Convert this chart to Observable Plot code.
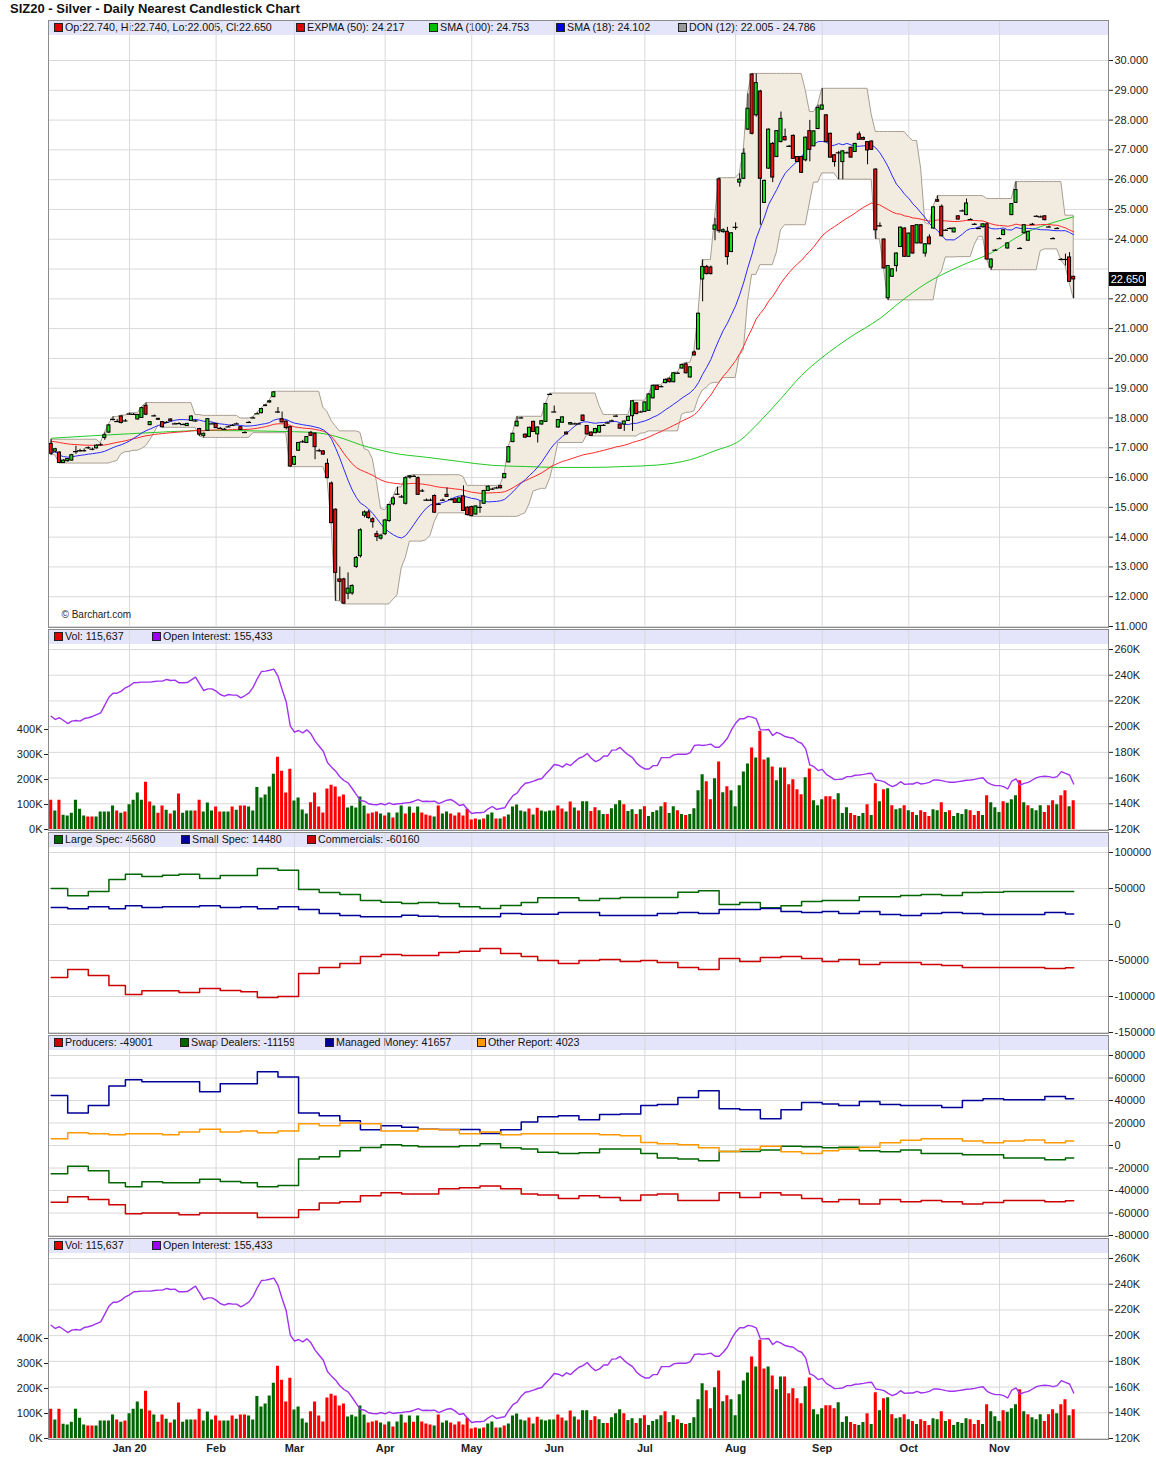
<!DOCTYPE html>
<html>
<head>
<meta charset="utf-8">
<script src="https://cdn.jsdelivr.net/npm/d3@7"></script>
<script src="https://cdn.jsdelivr.net/npm/@observablehq/plot@0.6"></script>
<style>
  html, body { margin: 0; padding: 0; background: #fff; overflow: hidden; }
  body { font-family: "Liberation Sans", Arial, sans-serif; }
  #root { position: relative; width: 1156px; height: 1479px; }
  .title { position: absolute; left: 10px; top: 1px; font-weight: bold; font-size: 13px; line-height: 16px; color: #111; white-space: nowrap; }
  .band { position: absolute; left: 49px; width: 1059px; height: 15px; background: #e4e4fa; }
  .sq { position: absolute; top: 3px; width: 7px; height: 7px; border: 1px solid #222; }
  .lt { position: absolute; top: 0; line-height: 15px; font-size: 10.7px; color: #111; white-space: nowrap; }
  .panel { position: absolute; left: 0; }
  .last { position: absolute; left: 1109px; width: 37px; height: 14px; background: #000; color: #fff; font-size: 11px; line-height: 14px; text-align: center; }
</style>
</head>
<body>
<div id="root"></div>
<script>
// ---------- categories / ticks ----------
const monthIdx = [19, 40, 59, 81, 102, 122, 144, 166, 187, 208, 230];
const monthLbl = ["Jan 20", "Feb", "Mar", "Apr", "May", "Jun", "Jul", "Aug", "Sep", "Oct", "Nov"];
const priceTicks = [11,12,13,14,15,16,17,18,19,20,21,22,23,24,25,26,27,28,29,30];
const priceLabelTicks = [11,12,13,14,15,16,17,18,19,20,21,22,24,25,26,27,28,29,30];
const oiTicks = [120,140,160,180,200,220,240,260];
const volTicks = [0,100,200,300,400];
const cotTicks = [100000,50000,0,-50000,-100000,-150000];
const dispTicks = [80000,60000,40000,20000,0,-20000,-40000,-60000,-80000];

// ---------- daily OHLC ----------
const opens = [
17.13,16.87,16.84,16.49,16.55,16.57,16.87,16.90,16.90,17.00,
16.95,16.98,17.10,17.33,17.51,17.95,17.88,18.05,17.90,18.13,
18.12,17.95,18.00,18.41,17.76,18.07,17.97,17.86,17.85,17.95,
17.80,17.81,17.78,17.73,17.90,17.90,17.63,17.40,17.57,17.80,
17.80,17.65,17.62,17.70,17.75,17.80,17.69,17.51,17.85,18.00,
18.14,18.16,18.40,18.52,18.70,18.20,17.96,17.88,17.69,16.43,
16.90,17.20,17.16,17.50,17.47,16.90,16.88,16.46,15.80,14.92,
12.58,12.58,12.10,12.11,13.00,13.36,14.72,14.83,14.60,14.10,
13.95,14.10,14.54,15.10,15.44,15.35,15.12,16.00,16.04,15.98,
15.55,15.24,15.24,15.38,15.10,15.24,15.42,15.26,15.27,15.15,
15.37,14.99,15.01,14.76,15.00,15.12,15.55,15.61,15.65,15.71,
15.98,16.51,17.19,17.72,18.00,17.44,17.36,17.87,17.45,17.78,
17.87,18.79,18.20,17.68,17.84,17.51,17.78,17.80,17.80,18.08,
17.73,17.51,17.49,17.51,17.75,17.83,17.90,18.06,17.78,17.78,
17.90,18.06,18.49,18.20,18.20,18.24,18.66,19.08,19.05,19.17,
19.30,19.20,19.50,19.66,19.80,19.36,20.20,20.30,22.65,23.07,
23.05,24.32,26.01,24.24,24.25,23.57,24.40,25.90,26.03,27.68,
29.53,28.16,28.96,25.22,26.37,27.20,26.76,27.26,27.43,27.12,
27.47,26.76,26.76,26.65,27.63,27.12,27.70,28.35,28.16,27.54,
26.82,26.90,26.59,26.90,27.07,26.93,27.52,27.40,27.26,27.28,
26.34,24.45,23.99,22.02,22.74,23.10,23.74,24.36,23.41,24.44,
23.86,24.47,23.52,24.06,24.36,25.31,25.09,24.30,24.36,24.23,
24.77,24.95,24.81,24.66,24.50,24.36,24.40,24.50,23.05,23.63,
24.02,24.14,23.69,24.81,25.22,23.69,24.20,23.95,24.50,24.77,
24.75,24.77,24.41,24.02,24.36,23.32,23.32,23.39,22.74];
const highs = [
17.27,16.98,16.86,16.60,16.64,16.78,17.05,16.95,16.96,17.03,
16.99,17.10,17.15,17.50,17.78,18.03,17.95,18.08,17.95,18.16,
18.15,18.12,18.36,18.50,17.88,18.10,17.99,17.88,17.88,17.97,
17.83,17.84,17.80,17.82,18.07,17.93,17.65,17.49,17.98,17.83,
17.82,17.68,17.65,17.73,17.78,17.83,17.71,17.54,17.88,18.03,
18.17,18.32,18.44,18.58,18.88,18.35,18.20,17.90,17.72,16.72,
17.18,17.25,17.38,17.55,17.50,16.95,16.90,16.62,15.85,14.95,
13.00,12.62,12.80,12.40,13.35,14.28,14.88,14.90,14.65,14.20,
14.10,14.60,15.10,15.35,15.67,15.40,16.02,16.06,16.08,16.02,
15.60,15.28,15.28,15.42,15.14,15.28,15.65,15.30,15.30,15.32,
15.72,15.02,15.04,15.05,15.20,15.57,15.72,15.64,15.68,15.74,
16.14,17.04,17.49,18.04,18.03,17.46,17.69,17.89,17.70,17.91,
18.49,18.82,18.40,17.95,18.04,17.53,17.85,17.83,17.83,18.10,
17.75,17.53,17.65,17.75,17.78,17.86,17.93,18.09,17.80,17.90,
18.06,18.58,18.51,18.23,18.54,18.81,19.10,19.10,19.08,19.30,
19.35,19.52,19.53,19.80,19.85,19.72,20.25,21.52,23.30,23.12,
23.10,24.70,26.05,24.35,24.40,24.22,24.55,26.20,27.04,28.88,
29.55,29.55,29.00,25.98,27.70,27.25,27.65,28.27,27.70,27.15,
27.50,26.78,26.78,27.43,27.99,27.64,28.50,29.05,28.18,27.56,
26.84,26.95,26.97,26.93,27.09,27.22,27.60,27.43,27.28,27.30,
26.36,24.55,24.01,23.12,23.01,23.54,24.41,24.38,24.21,24.46,
24.49,24.49,23.85,24.15,25.09,25.45,25.15,24.33,24.39,24.38,
24.79,24.98,25.35,24.69,24.53,24.39,24.52,24.55,23.34,23.66,
24.05,24.32,23.88,25.20,25.92,23.72,24.49,24.27,24.53,24.79,
24.78,24.79,24.44,24.05,24.39,23.35,23.50,23.55,22.74];
const lows = [
16.75,16.82,16.47,16.47,16.52,16.55,16.78,16.85,16.86,16.95,
16.90,16.96,17.05,17.25,17.48,17.90,17.85,17.80,17.87,18.10,
18.09,17.93,17.98,18.08,17.74,18.04,17.92,17.67,17.82,17.87,
17.78,17.79,17.75,17.71,17.88,17.87,17.38,17.33,17.55,17.78,
17.64,17.62,17.60,17.68,17.72,17.78,17.58,17.49,17.83,17.97,
18.12,18.14,18.38,18.50,18.68,18.15,17.83,17.60,16.35,16.40,
16.88,17.15,17.14,17.38,16.60,16.85,16.75,15.96,14.45,11.85,
11.85,11.74,11.90,12.05,12.95,13.30,14.65,14.60,14.30,13.85,
13.90,14.05,14.50,15.05,15.40,15.30,15.08,15.95,16.00,15.40,
15.50,15.20,15.20,14.80,15.06,15.20,15.33,15.22,15.13,15.13,
14.86,14.72,14.68,14.74,14.80,15.10,15.53,15.58,15.62,15.62,
15.96,16.49,17.17,17.70,17.97,17.32,17.34,17.51,17.16,17.76,
17.85,18.76,18.18,17.66,17.82,17.43,17.76,17.77,17.77,17.88,
17.43,17.38,17.47,17.49,17.72,17.80,17.87,18.03,17.62,17.55,
17.88,17.55,18.11,18.17,18.18,18.22,18.64,18.92,19.02,19.15,
19.18,19.18,19.47,19.64,19.48,19.34,20.08,20.28,21.90,22.80,
22.80,23.95,24.20,24.20,23.13,23.55,24.30,25.75,26.00,27.65,
27.50,28.10,24.47,25.20,26.35,25.90,26.74,27.24,27.30,27.09,
26.68,26.57,26.21,26.60,26.60,27.10,27.68,28.33,27.24,26.72,
26.42,26.00,26.00,26.87,26.72,26.91,27.32,27.32,26.50,26.98,
24.00,24.40,23.00,21.95,22.72,22.90,23.72,23.39,23.39,23.50,
23.84,23.84,23.40,23.81,24.34,25.24,24.08,24.27,24.33,24.21,
24.64,24.92,24.79,24.63,24.47,24.33,24.38,23.30,22.96,23.60,
23.99,24.12,23.67,24.79,25.20,23.66,24.18,23.93,24.47,24.74,
24.72,24.62,24.38,23.99,24.33,23.29,23.10,22.55,22.005];
const closes = [
16.80,16.95,16.49,16.57,16.62,16.75,16.87,16.90,16.90,17.00,
16.95,17.07,17.10,17.42,17.75,17.95,17.88,17.83,17.90,18.13,
18.12,18.10,18.33,18.11,17.86,18.07,17.94,17.69,17.85,17.89,
17.80,17.81,17.78,17.80,18.05,17.90,17.44,17.47,17.96,17.80,
17.66,17.65,17.62,17.70,17.75,17.80,17.60,17.51,17.85,18.00,
18.14,18.30,18.42,18.56,18.86,18.20,17.85,17.66,16.37,16.69,
17.16,17.20,17.36,17.40,17.02,16.90,16.77,15.98,14.47,12.80,
12.50,11.77,12.27,12.36,13.30,14.23,14.83,14.64,14.50,14.00,
14.05,14.56,15.08,15.30,15.44,15.35,15.98,16.04,16.04,15.42,
15.55,15.24,15.24,14.82,15.10,15.24,15.35,15.26,15.15,15.30,
14.88,14.74,14.71,15.03,15.00,15.55,15.69,15.61,15.65,15.64,
16.12,17.02,17.47,17.87,18.00,17.34,17.67,17.53,17.68,17.89,
18.47,18.79,18.20,17.93,18.02,17.45,17.83,17.80,17.80,17.90,
17.45,17.40,17.63,17.73,17.75,17.83,17.90,18.06,17.64,17.88,
18.04,18.56,18.13,18.20,18.52,18.79,19.08,18.94,19.05,19.28,
19.20,19.50,19.50,19.78,19.50,19.70,20.10,21.50,23.07,22.83,
22.83,24.46,24.27,24.30,23.40,24.20,24.40,26.00,26.87,28.38,
27.54,29.24,26.03,25.96,27.68,26.07,27.63,28.04,27.32,27.12,
26.70,26.59,26.23,27.41,27.00,27.62,28.41,28.49,27.26,26.74,
26.59,26.90,26.95,26.90,26.74,27.20,27.34,27.34,26.98,27.00,
24.30,24.45,23.02,23.10,22.99,23.52,24.39,23.41,24.19,23.52,
24.47,23.86,23.83,23.83,25.07,25.26,24.10,24.30,24.36,24.36,
24.66,24.95,25.20,24.66,24.50,24.36,24.50,23.32,23.32,23.63,
24.02,24.30,23.86,25.18,25.65,23.69,24.47,24.25,24.50,24.77,
24.75,24.64,24.41,24.02,24.36,23.32,23.32,22.57,22.65];

// SMA(100) (bar index, value)
const sma100Idx = [0,19,39,55,63,67,71,75,79,83,91,99,107,115,123,131,139,147,155,161,167,172,177,182,187,194,201,206,212,220,228,236,244,248];
const sma100Val = [17.32,17.47,17.58,17.55,17.52,17.45,17.30,17.10,16.95,16.82,16.68,16.54,16.41,16.37,16.34,16.34,16.37,16.42,16.60,16.90,17.24,17.90,18.65,19.43,20.03,20.73,21.34,21.90,22.50,23.07,23.54,24.20,24.60,24.75];
const ema50Start = 17.23;

// ---------- volume (K) and open interest (K) ----------
const volumeK = [
117,74,117,57,54,65,117,81,54,50, 50,50,70,70,70,94,74,65,70,99,
117,146,117,189,110,94,65,94,77,62, 74,142,65,74,74,74,117,70,106,74,
90,70,70,70,90,77,94,94,90,74, 168,126,138,170,221,289,233,146,241,114,
126,78,62,107,146,90,66,162,177,170, 130,138,86,93,86,130,94,62,66,70,
62,54,66,46,66,94,62,90,65,90, 66,58,54,50,94,62,70,62,54,66,
54,81,38,42,38,42,58,66,42,42, 50,58,90,98,74,70,82,58,85,74,
70,74,74,94,82,70,110,86,74,
111,111,72,87,75,60,60,83,99,115, 99,72,79,60,79,91,52,68,75,91,
107,64,91,75,60,56,60,83,155,219, 191,119,203,270,147,171,155,91,175,230,
262,326,286,393,278,286,250,195,246,246, 179,199,159,139,207,242,115,95,119,131,
131,119,143,64,87,64,56,52,64,99, 56,183,111,159,163,95,79,83,95,75,
68,56,75,68,52,79,75,107,68,75, 52,64,60,79,75,56,72,56,135,107,
87,68,111,105,119,135,195,107,95,83, 75,95,68,95,115,99,135,155,91,115];
const volColor = (
"rgrggggggr" + "rgggggrgrg" + "gggrrgrrgr" + "grgggrrggg" + "rrggrgrrgg" +
"gggggrrrrg" + "gggrrrrrrr" + "rrgggggrrr" + "grgrggrgrg" + "rrrgrggrrr" +
"rrrrgrggrg" + "rgggggrgrg" + "gggrrgrgr" +
"ggrrggrggg" + "rggrgrgggg" + "rggrgrgggg" + "rrgrgrgggg" + "grgrrgrggr" +
"rrrrgrgggr" + "rrgggrrggr" + "grgrgrggrg" + "rgrrrggrgr" + "ggggrrrgrg" +
"ggrgggrgrg" + "ggrrrgrrgr").split("");
const openInterestK = [
208.1,205.6,206.9,204.8,202.4,204.3,204.8,204.3,206.3,206.9,
207.9,209.4,210.7,216.7,222.9,226.0,226.0,227.6,230.2,231.7,
234.1,234.3,234.6,234.6,234.6,235.1,235.4,235.4,236.7,235.9,
236.2,234.1,234.1,234.3,236.4,238.5,233.3,228.1,229.4,229.4,
227.6,225.0,223.7,225.0,224.5,224.5,222.4,224.2,226.3,230.7,
237.4,242.9,243.2,243.9,244.7,239.3,228.9,219.3,200.4,195.7,
197.0,195.2,197.5,194.4,188.7,184.8,180.9,172.1,168.5,165.4,
161.0,158.1,156.3,151.9,147.2,142.6,142.0,140.0,139.4,139.2,
140.2,139.2,140.7,139.4,140.0,140.2,140.7,141.0,142.0,143.3,
141.8,142.0,141.8,142.0,140.2,141.5,142.8,143.3,141.3,138.7,
139.4,135.6,132.4,133.0,133.0,133.5,136.1,137.9,135.6,136.3,
136.9,142.0,146.4,148.3,152.9,156.0,156.6,157.6,158.9,159.7,
163.3,166.7,170.6,170.0,168.5,171.1,169.7,172.8,175.4,176.7,
179.1,175.4,172.8,174.1,177.2,177.2,181.7,181.9,183.8,180.6,
178.0,175.9,171.5,168.9,167.1,167.1,169.7,169.7,175.9,175.9,
175.9,178.0,178.5,178.5,178.5,179.8,185.3,185.8,185.3,185.8,
186.4,184.0,184.0,187.1,191.0,197.5,202.7,206.1,206.1,208.0,
207.4,206.1,197.5,197.5,197.8,193.1,195.5,194.2,192.3,191.6,
191.0,188.4,187.1,182.7,170.2,168.9,165.8,166.8,162.9,160.9,
158.8,159.0,159.3,161.1,161.1,162.2,162.4,162.9,163.5,163.7,
158.5,158.0,157.2,155.1,153.3,154.6,157.2,155.1,155.4,155.4,
156.7,155.4,155.9,156.7,158.5,158.5,158.0,157.2,156.7,156.7,
157.2,157.7,158.3,158.5,159.0,159.8,160.3,156.7,155.1,154.1,
154.1,153.3,151.5,157.7,159.3,154.6,155.9,156.7,158.5,160.3,
161.1,161.4,161.1,160.3,161.1,165.0,163.7,162.4,155.4];

// ---------- weekly COT (value from each report's Tuesday bar) ----------
const weekStart = [0,4,9,14,18,22,27,31,36,41,46,50,55,60,65,70,75,80,85,89,94,99,104,109,114,118,123,128,133,138,143,147,152,157,162,167,172,177,182,187,191,196,201,206,211,216,221,226,231,236,241,246];
const largeSpec = [50000,39800,45800,62500,69900,66700,68500,69900,63900,68000,
 68000,77800,75500,48600,44400,41700,33300,31000,29200,30600,
 29200,24500,22200,26400,30600,37000,37000,33300,36100,37500,
 37500,37500,44900,46800,27800,30600,23100,25900,31900,33300,
 33300,38400,38400,40300,41700,40300,44400,44900,45800,45800,
 45800,45680];
const smallSpec = [23600,21800,24500,21800,25900,23600,24500,24500,25900,23600,
 24500,21800,24500,20800,15300,12500,10600,10600,13000,11600,
 10600,10600,10600,15300,14400,14400,16700,16700,12500,12500,
 12500,15300,16700,15300,20800,20800,22200,18100,16700,18100,
 15300,18100,13900,12500,15300,16700,15300,13900,13900,13900,
 16700,14480];
const commercials = [-73600,-62500,-70800,-84700,-97200,-92100,-92100,-94400,-88900,-91700,
 -93500,-101400,-100000,-68100,-59700,-54200,-44400,-41700,-43100,-43100,
 -38900,-37000,-33300,-40300,-44400,-50000,-54200,-50000,-48600,-51400,
 -50000,-52800,-59700,-62500,-47200,-51400,-45800,-44400,-47200,-51400,
 -48600,-55600,-52800,-52800,-55600,-56900,-59700,-59700,-59700,-59700,
 -61100,-60160];
const producers = [-50400,-45600,-48000,-52700,-60700,-59900,-59900,-61600,-59900,-59900,
 -59900,-64000,-64000,-57200,-51000,-50100,-44700,-42100,-43000,-43000,
 -38500,-37600,-35900,-38500,-43000,-43900,-47100,-44700,-46200,-48900,
 -43900,-43000,-48900,-48900,-42100,-46200,-42100,-43900,-47100,-50100,
 -48000,-51900,-48000,-50100,-48900,-50100,-51900,-50700,-48900,-48900,
 -50100,-49001];
const swapDealers = [-25200,-18400,-22500,-33200,-36700,-32300,-33200,-33200,-29900,-32000,
 -33200,-36700,-35600,-11900,-10100,-4700,-1800,600,-300,-1200,
 -1200,-300,1500,-2100,-3000,-5900,-7100,-6500,-3000,-3000,
 -7100,-11000,-11900,-13600,-5300,-5300,-3900,-600,-1200,-2100,
 -1500,-4700,-5600,-4100,-7100,-7100,-8300,-8300,-11000,-11000,
 -12700,-11159];
const managedMoney = [44400,29000,35600,53000,58400,56600,56600,56600,47700,54800,
 54800,65500,61000,29000,26400,21900,13900,17500,16300,14500,
 14200,14200,10700,13900,21000,25500,26400,22800,27600,28100,
 35600,36400,42700,48600,32600,31700,23700,31700,38200,37000,
 35600,39100,36400,35600,35600,33800,40000,41500,40600,40600,
 43600,41657];
const otherReport = [5900,11300,10400,9500,10400,10400,9500,11900,14500,12100,
 13000,11300,13000,19300,17500,20100,19300,13000,13000,14500,
 13900,10400,11900,9500,10400,10400,10400,10400,9500,8600,
 2700,1500,600,-2100,-5300,-3300,-600,-5600,-7100,-4700,
 -3000,-1500,2400,4700,5900,5900,4100,2400,4100,5000,
 2400,4023];

// ---------- legend texts ----------
const legendPrice = ["Op:22.740, Hi:22.740, Lo:22.005, Cl:22.650", "EXPMA (50): 24.217", "SMA (100): 24.753", "SMA (18): 24.102", "DON (12): 22.005 - 24.786"];
const legendVol = ["Vol: 115,637", "Open Interest: 155,433"];
const legendCot = ["Large Spec: 45680", "Small Spec: 14480", "Commercials: -60160"];
const legendDisagg = ["Producers: -49001", "Swap Dealers: -11159", "Managed Money: 41657", "Other Report: 4023"];
const titleText = "SIZ20 - Silver - Daily Nearest Candlestick Chart";
const lastPriceText = "22.650";

// ================= build =================
const N = closes.length;
const bars = d3.range(N).map(i => ({i, o: opens[i], h: highs[i], l: lows[i], c: closes[i]}));
const sma18 = closes.map((c, i) => d3.mean(closes.slice(Math.max(0, i - 17), i + 1)));
let e = ema50Start;
const ema50 = closes.map(c => (e = e + (2 / 51) * (c - e)));
const donHi = highs.map((h, i) => d3.max(highs.slice(Math.max(0, i - 11), i + 1)));
const donLo = lows.map((l, i) => d3.min(lows.slice(Math.max(0, i - 11), i + 1)));

const GREEN = "#12e012", RED = "#f01010", GRID = "#d9d9d9", FRAME = "#8c8c8c";
const VGREEN = "#006600", VRED = "#ff0000", PURPLE = "#a033ee";
const style = {fontFamily: "'Liberation Sans', Arial, sans-serif", fontSize: "11px", color: "#222", background: "transparent", overflow: "visible"};
const X = {domain: [0, N - 1], range: [50.7, 1073.2], axis: null, label: null};

const root = document.getElementById("root");
const t = document.createElement("div"); t.className = "title"; t.textContent = titleText; root.appendChild(t);

function band(top, items) {
  const b = document.createElement("div");
  b.className = "band"; b.style.top = top + "px";
  for (const it of items) {
    const sq = document.createElement("span"); sq.className = "sq";
    sq.style.left = (it.x - 49) + "px"; sq.style.background = it.color; b.appendChild(sq);
    const tx = document.createElement("span"); tx.className = "lt";
    tx.style.left = (it.x - 49 + 11) + "px"; tx.textContent = it.text; b.appendChild(tx);
  }
  root.appendChild(b);
}
function place(svg, top) {
  const d = document.createElement("div"); d.className = "panel"; d.style.top = top + "px";
  d.appendChild(svg); root.appendChild(d);
  return svg;
}

// ---- panel 1: candlesticks ----
band(20, [
  {x: 54, color: "#e00000", text: legendPrice[0]},
  {x: 296, color: "#e00000", text: legendPrice[1]},
  {x: 429, color: "#00c000", text: legendPrice[2]},
  {x: 556, color: "#0000e0", text: legendPrice[3]},
  {x: 678, color: "#999999", text: legendPrice[4]}
]);
const bodies = bars.filter(d => Math.abs(d.c - d.o) >= 0.015);
const dojis = bars.filter(d => Math.abs(d.c - d.o) < 0.015);
const p1 = Plot.plot({
  width: 1156, height: 609, marginLeft: 48, marginRight: 48, marginTop: 1, marginBottom: 1,
  style, x: X, y: {domain: [11, 30], range: [607, 41], axis: null, label: null},
  marks: [
    Plot.gridY(priceTicks, {stroke: GRID, strokeOpacity: 1}),
    Plot.gridX(monthIdx, {stroke: GRID, strokeOpacity: 1}),
    Plot.areaY(bars, {x: "i", y1: donLo, y2: donHi, fill: "#f1ebe0", stroke: "#a89f93", strokeWidth: 1}),
    Plot.line(sma100Idx.map((x, k) => [x, sma100Val[k]]), {stroke: "#22c922", strokeWidth: 1, curve: "monotone-x"}),
    Plot.line(bars, {x: "i", y: ema50, stroke: "#ff2a2a", strokeWidth: 1}),
    Plot.line(bars, {x: "i", y: sma18, stroke: "#2a2aff", strokeWidth: 1}),
    Plot.ruleX(bars, {x: "i", y1: "l", y2: "h", stroke: "#000", strokeWidth: 1}),
    Plot.rect(bodies, {x1: d => d.i - 0.37, x2: d => d.i + 0.37, y1: "o", y2: "c",
      fill: d => d.c > d.o ? GREEN : RED, stroke: "#000", strokeWidth: 1}),
    Plot.ruleY(dojis, {x1: d => d.i - 0.6, x2: d => d.i + 0.6, y: "c", stroke: "#000", strokeWidth: 1.2}),
    Plot.frame({stroke: FRAME}),
    Plot.axisY(priceLabelTicks, {anchor: "right", label: null, tickFormat: d => d.toFixed(3), tickSize: 4, tickPadding: 2}),
    Plot.text(["© Barchart.com"], {frameAnchor: "bottom-left", dx: 13, dy: -10, lineAnchor: "bottom", fontSize: 10, fill: "#222"})
  ]
});
place(p1, 19);
const lp = document.createElement("div"); lp.className = "last";
lp.style.top = (19 + p1.scale("y").apply(closes[N - 1]) - 7) + "px";
lp.textContent = lastPriceText; root.appendChild(lp);

// ---- volume / open interest panels ----
const volToOI = v => 120 + v * (140 / 180) / 4;
const volData = volumeK.map((v, i) => ({i, v, up: volColor[i] === "g"}));
const oiData = openInterestK.map((v, i) => ({i, v}));
function volPanel(top, height, withX) {
  band(top + 1, [
    {x: 54, color: "#e00000", text: legendVol[0]},
    {x: 152, color: "#9900ff", text: legendVol[1]}
  ]);
  const marks = [
    Plot.gridY(oiTicks, {stroke: GRID, strokeOpacity: 1}),
    Plot.gridX(monthIdx, {stroke: GRID, strokeOpacity: 1}),
    Plot.rect(volData, {x1: d => d.i - 0.37, x2: d => d.i + 0.37, y1: () => 120, y2: d => volToOI(d.v),
      fill: d => d.up ? VGREEN : VRED}),
    Plot.line(oiData, {x: "i", y: "v", stroke: PURPLE, strokeWidth: 1.4}),
    Plot.frame({stroke: FRAME}),
    Plot.axisY(oiTicks, {anchor: "right", label: null, tickFormat: d => d + "K", tickSize: 4, tickPadding: 2}),
    Plot.axisY(volTicks.map(volToOI), {anchor: "left", label: null, tickFormat: d => Math.round((d - 120) * 4 * 180 / 140) + "K", tickSize: 4, tickPadding: 2})
  ];
  if (withX) marks.push(Plot.axisX(monthIdx, {anchor: "bottom", label: null, tickSize: 0, tickPadding: 5, fontWeight: "bold",
    tickFormat: d => monthLbl[monthIdx.indexOf(d)]}));
  const p = Plot.plot({
    width: 1156, height, marginLeft: 48, marginRight: 48, marginTop: 1, marginBottom: height - 202,
    style, x: X, y: {domain: [120, 260], range: [201, 21], axis: null, label: null}, marks
  });
  place(p, top);
}
volPanel(628, 203, false);

// ---- COT step panels ----
function steps(vals) {
  const pts = weekStart.map((s, k) => ({i: s, v: vals[k]}));
  pts.push({i: N - 1, v: vals[vals.length - 1]});
  return pts;
}
function cotPanel(top, domain, ticks, series, legendItems) {
  band(top + 1, legendItems);
  const p = Plot.plot({
    width: 1156, height: 203, marginLeft: 48, marginRight: 48, marginTop: 1, marginBottom: 1,
    style, x: X, y: {domain, range: [201, 21], axis: null, label: null},
    marks: [
      Plot.gridY(ticks, {stroke: GRID, strokeOpacity: 1}),
      Plot.gridX(monthIdx, {stroke: GRID, strokeOpacity: 1}),
      ...series.map(s => Plot.line(steps(s.vals), {x: "i", y: "v", curve: "step-after", stroke: s.color, strokeWidth: 1.5})),
      Plot.frame({stroke: FRAME}),
      Plot.axisY(ticks, {anchor: "right", label: null, tickFormat: d => String(d), tickSize: 4, tickPadding: 2})
    ]
  });
  place(p, top);
}
cotPanel(831, [-150000, 100000], cotTicks, [
  {vals: largeSpec, color: "#006600"},
  {vals: smallSpec, color: "#000099"},
  {vals: commercials, color: "#cc0000"}
], [
  {x: 54, color: "#006600", text: legendCot[0]},
  {x: 181, color: "#000099", text: legendCot[1]},
  {x: 307, color: "#cc0000", text: legendCot[2]}
]);
cotPanel(1034, [-80000, 80000], dispTicks, [
  {vals: producers, color: "#cc0000"},
  {vals: swapDealers, color: "#006600"},
  {vals: managedMoney, color: "#000099"},
  {vals: otherReport, color: "#ff9900"}
], [
  {x: 54, color: "#cc0000", text: legendDisagg[0]},
  {x: 180, color: "#006600", text: legendDisagg[1]},
  {x: 325, color: "#000099", text: legendDisagg[2]},
  {x: 477, color: "#ff9900", text: legendDisagg[3]}
]);

volPanel(1237, 242, true);
</script>
</body>
</html>
